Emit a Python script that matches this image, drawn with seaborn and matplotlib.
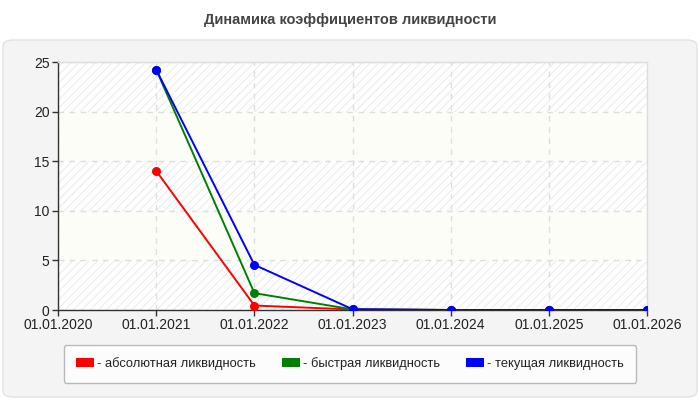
import pandas as pd
import numpy as np
import matplotlib
matplotlib.use('Agg')
from matplotlib import pyplot as plt
import matplotlib.dates as mdates
import matplotlib.patches as mpatches
import seaborn as sns

# данные
dates = ['2021-01-01', '2022-01-01', '2023-01-01', '2024-01-01', '2025-01-01', '2026-01-01']
absolute = [14.0, 0.45, 0.05, 0.0, 0.0, 0.0]
quick = [24.2, 1.7, 0.06, 0.0, 0.0, 0.0]
current = [24.2, 4.55, 0.08, 0.0, 0.0, 0.0]
names = ['- абсолютная ликвидность', '- быстрая ликвидность', '- текущая ликвидность']
colors = ['#ff0000', '#008000', '#0000ff']
title = 'Динамика коэффициентов ликвидности'

df = pd.DataFrame({
    'date': pd.to_datetime(dates * 3),
    'value': absolute + quick + current,
    'name': [names[0]] * 6 + [names[1]] * 6 + [names[2]] * 6,
})

sns.set_theme(style='white')
plt.rcParams['font.family'] = ['Liberation Sans', 'DejaVu Sans']
plt.rcParams['hatch.linewidth'] = 0.8

fig = plt.figure(figsize=[7, 4], dpi=100)
fig.patch.set_facecolor('white')

# серая подложка
panel = mpatches.FancyBboxPatch((3 / 700, 3 / 400), 694 / 700, 357 / 400,
                                boxstyle='round,pad=0,rounding_size=0.015',
                                transform=fig.transFigure, facecolor='#f4f4f4',
                                edgecolor='#e2e2e2', linewidth=1, zorder=-10)
fig.patches.append(panel)

fig.text(0.5, 0.95, title, ha='center', va='center', fontsize=10.5,
         fontweight='bold', color='#444444')

ax = fig.add_axes([58 / 700, 90 / 400, 589 / 700, 248 / 400])
ax.set_zorder(5)
ax.set_facecolor('white')

# полосы фона
for lo in [0, 10, 20]:
    ax.axhspan(lo, lo + 5, facecolor='white', edgecolor='#ececec', hatch='////',
               linewidth=0, zorder=0)
for lo in [5, 15]:
    ax.axhspan(lo, lo + 5, facecolor='#fdfdf7', linewidth=0, zorder=0)

sns.lineplot(data=df, x='date', y='value', hue='name', palette=colors,
             marker='o', markersize=6.5, markeredgewidth=0, linewidth=1.4,
             legend=False, ax=ax, zorder=3)

ax.set_xlim(pd.Timestamp('2020-01-01'), pd.Timestamp('2026-01-01'))
ax.set_ylim(0, 25)
ax.set_xticks(pd.to_datetime(['2020-01-01'] + dates))
ax.xaxis.set_major_formatter(mdates.DateFormatter('%d.%m.%Y'))
ax.set_yticks(range(0, 26, 5))
ax.set_xlabel('')
ax.set_ylabel('')
ax.tick_params(axis='both', length=4, width=1, color='#333333', labelsize=10,
               labelcolor='#222222', pad=2, direction='out')
ax.tick_params(axis='x', bottom=True)
ax.tick_params(axis='y', left=True)

ax.grid(True, linestyle=(0, (4, 4)), color='#dddddd', linewidth=1)
ax.set_axisbelow(True)
for side in ['left', 'bottom']:
    ax.spines[side].set_color('#333333')
    ax.spines[side].set_linewidth(1)
for side in ['top', 'right']:
    ax.spines[side].set_color('#dddddd')
    ax.spines[side].set_linewidth(1)

handles = [mpatches.FancyBboxPatch((0, 0), 1, 1, boxstyle='round,pad=0,rounding_size=0.3',
                                   facecolor=c, edgecolor='none') for c in colors]
leg = fig.legend(handles, names, loc='center', ncol=3,
                 bbox_to_anchor=(350 / 700, 1 - 364 / 400),
                 frameon=True, fancybox=True, fontsize=9.3, handlelength=1.4,
                 handleheight=0.7, handletextpad=0.25, columnspacing=2.0,
                 borderpad=0.95, borderaxespad=0, labelcolor='#222222')
leg.get_frame().set_edgecolor('#aaaaaa')
leg.get_frame().set_facecolor('white')
leg.get_frame().set_linewidth(1)

plt.savefig('out.png', dpi=100)
